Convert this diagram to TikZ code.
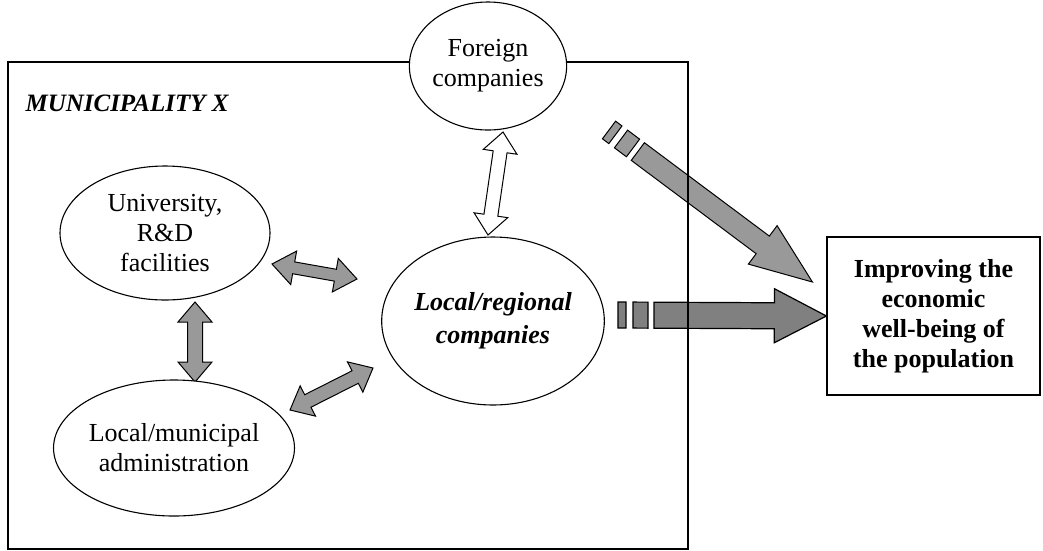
\documentclass[tikz,border=0pt]{standalone}
\usepackage{fontspec}
\setmainfont{Liberation Serif}
\usetikzlibrary{calc,shapes.geometric,backgrounds}

% fat two-headed arrow: [style]{from}{to}{half shaft}{half head}{head length}
\newcommand\dblarrow[6][]{%
  \draw[#1] (#2)
    -- ($(#2)!#6!(#3)!#5!90:(#3)$) -- ($(#2)!#6!(#3)!#4!90:(#3)$)
    -- ($(#3)!#6!(#2)!#4!-90:(#2)$) -- ($(#3)!#6!(#2)!#5!-90:(#2)$)
    -- (#3)
    -- ($(#3)!#6!(#2)!#5!90:(#2)$) -- ($(#3)!#6!(#2)!#4!90:(#2)$)
    -- ($(#2)!#6!(#3)!#4!-90:(#3)$) -- ($(#2)!#6!(#3)!#5!-90:(#3)$)
    -- cycle;}
% fat arrow with two stubs behind it: [style]{tail}{tip}{half shaft}{half head}{head length}
\newcommand\brokenarrow[6][]{%
  \draw[#1] ($(#2)!36pt!(#3)!#4!90:(#3)$)
    -- ($(#3)!#6!(#2)!#4!-90:(#2)$) -- ($(#3)!#6!(#2)!#5!-90:(#2)$)
    -- (#3)
    -- ($(#3)!#6!(#2)!#5!90:(#2)$) -- ($(#3)!#6!(#2)!#4!90:(#2)$)
    -- ($(#2)!36pt!(#3)!#4!-90:(#3)$) -- cycle;
  \draw[#1] ($(#2)!15pt!(#3)!#4!90:(#3)$) -- ($(#2)!30pt!(#3)!#4!90:(#3)$)
    -- ($(#2)!30pt!(#3)!#4!-90:(#3)$) -- ($(#2)!15pt!(#3)!#4!-90:(#3)$) -- cycle;
  \draw[#1] ($(#2)!#4!90:(#3)$) -- ($(#2)!8pt!(#3)!#4!90:(#3)$)
    -- ($(#2)!8pt!(#3)!#4!-90:(#3)$) -- ($(#2)!#4!-90:(#3)$) -- cycle;}

\begin{document}
\begin{tikzpicture}[
  x=1pt, y=-1pt,
  every node/.style={font=\fontsize{26}{30}\selectfont},
  frame/.style={rectangle, draw, line width=1.2pt, inner sep=0pt},
  actor/.style={ellipse, draw, fill=white, line width=1.1pt, align=center,
                inner sep=0pt},
  goalbox/.style={rectangle, draw, fill=white, line width=1.2pt, align=center,
                inner sep=0pt, font=\fontsize{26}{30}\selectfont\bfseries},
  link/.style={draw=black, fill=black!40, line width=1pt, line join=miter},
  twoway/.style={draw=black, fill=white, line width=1pt, line join=miter},
  flow/.style={draw=black, fill=black!50, line width=1.2pt, line join=miter},
]
\useasboundingbox (0,0) rectangle (1043,550);

\node[frame, minimum width=680pt, minimum height=487pt] (muni) at (348,305.5) {};
\node[anchor=west, font=\fontsize{25}{30}\selectfont\bfseries\itshape]
                            (title) at (22,103) {MUNICIPALITY X};

\node[actor, minimum width=156pt, minimum height=128pt]
                            (fgn) at (488,66)  {Foreign\\companies};
\node[actor, minimum width=210pt, minimum height=134pt]
                            (uni) at (165,233) {University,\\R\&D\\facilities};
\node[actor, minimum width=228pt, minimum height=136pt]
                            (adm) at (174,448) {Local/municipal\\administration};
\node[actor, minimum width=216pt, minimum height=168pt,
      font=\fontsize{26}{33}\selectfont\bfseries\itshape]
                            (loc) at (493,321) {Local/regional\\companies};
\node[goalbox, minimum width=213pt, minimum height=158pt]
                            (goal) at (933.5,316) {Improving the\\economic\\well-being of\\the population};

\coordinate (u1) at ($(uni)+(107,31)$);
\coordinate (l1) at ($(loc)+(-136,-42)$);
\coordinate (u2) at ($(uni)+(30,69)$);
\coordinate (a2) at ($(adm)+(21,-66)$);
\coordinate (a3) at ($(adm)+(116,-38)$);
\coordinate (l3) at ($(loc)+(-120,47)$);
\coordinate (f4) at ($(fgn)+(15,66)$);
\coordinate (l4) at ($(loc)+(-5,-86)$);
\coordinate (h0) at ($(loc)+(125,-6)$);
\coordinate (d0) at ($(fgn)+(121,64)$);
\coordinate (d1) at ($(goal.west)+(-14,-34)$);

\begin{scope}[on background layer]
\dblarrow[link]{u1}{l1}{6pt}{17pt}{22pt}
\dblarrow[link]{u2}{a2}{7.5pt}{17pt}{20pt}
\dblarrow[link]{a3}{l3}{7pt}{17pt}{20pt}
\dblarrow[twoway]{f4}{l4}{7pt}{17pt}{20pt}
\brokenarrow[flow]{h0}{goal.west}{13pt}{27pt}{52pt}
\brokenarrow[link]{d0}{d1}{11pt}{24pt}{62pt}
\end{scope}
\end{tikzpicture}
\end{document}
